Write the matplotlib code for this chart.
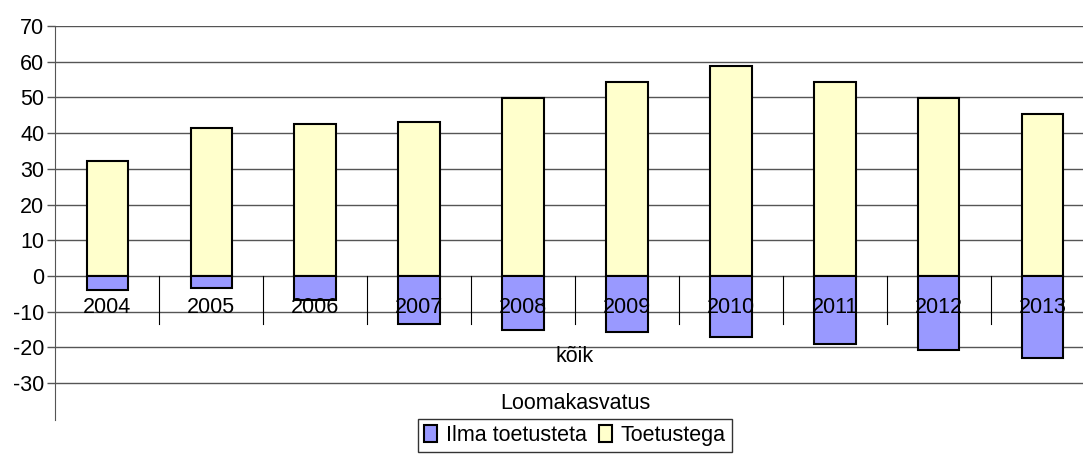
import matplotlib.pyplot as plt
from matplotlib.patches import Patch

plt.rcParams["font.family"] = ["Liberation Sans", "DejaVu Sans"]
plt.rcParams["axes.unicode_minus"] = False

# andmed
aastad = ["2004", "2005", "2006", "2007", "2008", "2009", "2010", "2011", "2012", "2013"]
ilma_toetusteta = [-3.9, -3.4, -6.8, -13.4, -15.1, -15.7, -17.2, -19.0, -20.7, -23.0]
toetustega = [32.3, 41.4, 42.5, 43.1, 49.9, 54.3, 58.8, 54.3, 49.9, 45.4]
grupp = "kõik"
sektor = "Loomakasvatus"

sinine = "#9999FF"
kollane = "#FFFFCC"
fs = 15.5

fig = plt.figure(figsize=(10.83, 4.55), dpi=100)
ax = fig.add_axes([0.0512, 0.0769, 0.9594, 0.866])

x = list(range(len(aastad)))
ax.bar(x, toetustega, width=0.4, color=kollane, edgecolor="black", linewidth=1.5, zorder=3)
ax.bar(x, ilma_toetusteta, width=0.4, color=sinine, edgecolor="black", linewidth=1.5, zorder=3)

ax.set_xlim(-0.5, len(aastad) - 0.5)
ax.set_ylim(-40.3, 70)
ax.set_yticks(range(-30, 71, 10))
ax.tick_params(axis="y", labelsize=fs, length=6, width=1, color="#555555", pad=2)
ax.set_xticks([])
ax.yaxis.grid(True, color="#555555", linewidth=1, zorder=0)
for s in ["top", "right", "bottom"]:
    ax.spines[s].set_visible(False)
ax.spines["left"].set_color("#555555")

# kategooriate eraldajad
for i in range(len(aastad)):
    ax.plot([i + 0.5, i + 0.5], [0, -13.4], color="black", linewidth=0.8, zorder=2, clip_on=False)

for i, a in enumerate(aastad):
    ax.text(i, -8.9, a, ha="center", va="center", fontsize=fs, zorder=5)
ax.text(4.5, -22.4, grupp, ha="center", va="center", fontsize=fs, zorder=5)
ax.text(4.5, -35.6, sektor, ha="center", va="center", fontsize=fs, zorder=5)

handles = [Patch(facecolor=sinine, edgecolor="black", linewidth=1.5),
           Patch(facecolor=kollane, edgecolor="black", linewidth=1.5)]
leg = fig.legend(handles, ["Ilma toetusteta", "Toetustega"], loc="lower center",
                 bbox_to_anchor=(0.531, -0.018), ncol=2, fontsize=fs, frameon=True,
                 fancybox=False, handlelength=0.6, handleheight=0.8, handletextpad=0.4,
                 columnspacing=0.6, borderpad=0.3)
leg.get_frame().set_edgecolor("black")
leg.get_frame().set_linewidth(1)

fig.savefig("out.png", dpi=100)
